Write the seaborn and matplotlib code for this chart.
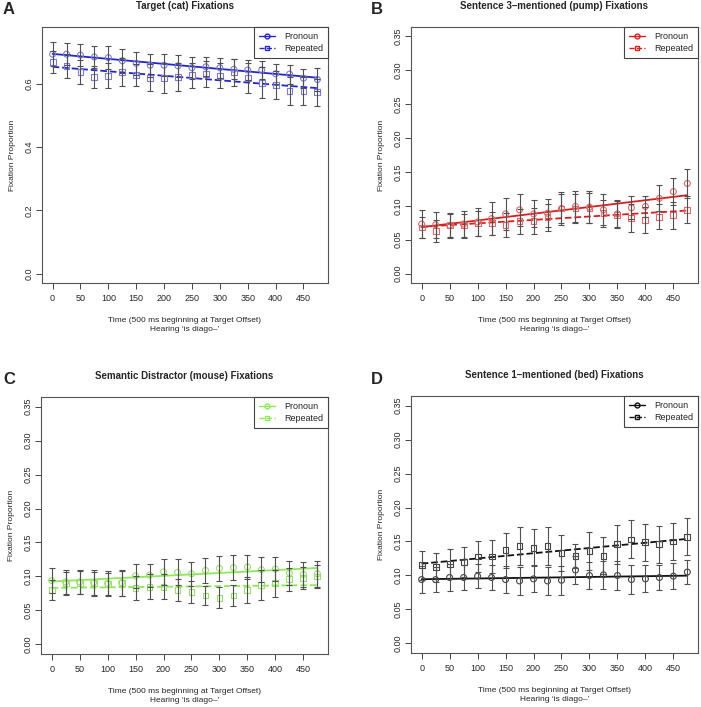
import numpy as np
import pandas as pd
import seaborn as sns
import matplotlib.pyplot as plt
from matplotlib.lines import Line2D

# time bins (ms after target offset)
time_ms = [0, 25, 50, 75, 100, 125, 150, 175, 200, 225,
           250, 275, 300, 325, 350, 375, 400, 425, 450, 475]

# A: target (cat)
a_pron = [0.694, 0.694, 0.691, 0.685, 0.683, 0.673, 0.665, 0.659, 0.659, 0.657,
          0.651, 0.654, 0.651, 0.646, 0.644, 0.644, 0.632, 0.631, 0.618, 0.614]
a_rep = [0.669, 0.657, 0.638, 0.623, 0.626, 0.638, 0.628, 0.620, 0.619, 0.622,
         0.627, 0.631, 0.626, 0.636, 0.618, 0.604, 0.596, 0.578, 0.577, 0.573]
a_pron_err = [0.037, 0.035, 0.034, 0.036, 0.036, 0.037, 0.037, 0.037, 0.035, 0.034,
              0.034, 0.030, 0.032, 0.032, 0.032, 0.030, 0.032, 0.030, 0.030, 0.035]
a_rep_err = [0.035, 0.038, 0.038, 0.035, 0.039, 0.045, 0.036, 0.042, 0.047, 0.043,
             0.040, 0.042, 0.040, 0.042, 0.047, 0.049, 0.045, 0.044, 0.044, 0.044]

# B: sentence 3-mentioned (pump)
b_pron = [0.073, 0.072, 0.071, 0.073, 0.076, 0.081, 0.088, 0.094, 0.088, 0.089,
          0.096, 0.099, 0.098, 0.094, 0.088, 0.097, 0.099, 0.111, 0.121, 0.133]
b_rep = [0.068, 0.063, 0.071, 0.071, 0.074, 0.074, 0.072, 0.077, 0.078, 0.083,
         0.096, 0.096, 0.097, 0.089, 0.087, 0.082, 0.079, 0.084, 0.086, 0.094]
b_pron_err = [0.021, 0.019, 0.019, 0.020, 0.021, 0.024, 0.024, 0.024, 0.020, 0.021,
              0.025, 0.023, 0.024, 0.023, 0.020, 0.017, 0.016, 0.019, 0.020, 0.021]
b_rep_err = [0.016, 0.016, 0.017, 0.017, 0.018, 0.017, 0.018, 0.019, 0.019, 0.020,
             0.021, 0.022, 0.022, 0.020, 0.020, 0.020, 0.019, 0.019, 0.020, 0.020]

# C: semantic distractor (mouse)
c_pron = [0.094, 0.092, 0.092, 0.091, 0.090, 0.091, 0.101, 0.102, 0.107, 0.106,
          0.104, 0.109, 0.112, 0.113, 0.114, 0.110, 0.111, 0.105, 0.103, 0.104]
c_rep = [0.080, 0.090, 0.091, 0.090, 0.089, 0.090, 0.083, 0.085, 0.085, 0.080,
         0.077, 0.072, 0.069, 0.072, 0.080, 0.088, 0.090, 0.096, 0.098, 0.100]
c_pron_err = [0.019, 0.018, 0.018, 0.019, 0.018, 0.019, 0.018, 0.017, 0.019, 0.019,
              0.018, 0.018, 0.018, 0.018, 0.018, 0.018, 0.017, 0.018, 0.018, 0.019]
c_rep_err = [0.015, 0.017, 0.017, 0.017, 0.016, 0.018, 0.018, 0.018, 0.018, 0.016,
             0.016, 0.014, 0.015, 0.016, 0.019, 0.022, 0.020, 0.017, 0.016, 0.017]

# D: sentence 1-mentioned (bed)
d_pron = [0.094, 0.094, 0.097, 0.097, 0.099, 0.097, 0.094, 0.092, 0.095, 0.092,
          0.093, 0.108, 0.100, 0.101, 0.100, 0.094, 0.095, 0.097, 0.099, 0.105]
d_rep = [0.115, 0.112, 0.117, 0.120, 0.128, 0.128, 0.137, 0.144, 0.141, 0.143,
         0.133, 0.129, 0.136, 0.129, 0.146, 0.153, 0.149, 0.146, 0.150, 0.157]
d_pron_err = [0.020, 0.019, 0.020, 0.019, 0.018, 0.019, 0.020, 0.020, 0.020, 0.020,
              0.021, 0.020, 0.020, 0.021, 0.021, 0.021, 0.020, 0.019, 0.019, 0.018]
d_rep_err = [0.021, 0.021, 0.022, 0.022, 0.023, 0.024, 0.026, 0.028, 0.027, 0.028,
             0.026, 0.018, 0.028, 0.027, 0.029, 0.028, 0.027, 0.027, 0.027, 0.027]

conditions = ['Pronoun', 'Repeated']
xlab = 'Time (500 ms beginning at Target Offset)\nHearing \u2018is diago\u2013\u2019'

sns.set_theme(style='white')
plt.rcParams['font.family'] = ['Liberation Sans', 'DejaVu Sans']

W, H = 701, 707
fig = plt.figure(figsize=(W / 100, H / 100), dpi=100)


def add_ax(l, t, r, b):
    return fig.add_axes([l / W, 1 - b / H, (r - l) / W, (b - t) / H])


def panel(ax, pron, rep, pron_err, rep_err, line_col, mark_col, ymax, yticks, fmt, title):
    df = pd.DataFrame({
        'time': time_ms * 2,
        'prop': pron + rep,
        'err': pron_err + rep_err,
        'cond': ['Pronoun'] * len(time_ms) + ['Repeated'] * len(time_ms),
    })
    styles = {'Pronoun': ('-', 'o'), 'Repeated': ('--', 's')}
    for cond in conditions:
        d = df[df['cond'] == cond]
        ls, mk = styles[cond]
        sns.regplot(data=d, x='time', y='prop', scatter=False, ci=None, truncate=True,
                    color=line_col, ax=ax, line_kws=dict(ls=ls, lw=1.3, zorder=2))
        sns.scatterplot(data=d, x='time', y='prop', marker=mk, s=18, facecolor='none',
                        edgecolor=mark_col, linewidth=0.8, ax=ax, legend=False, zorder=3)
        ax.errorbar(d['time'], d['prop'], yerr=d['err'], fmt='none', ecolor='#505050',
                    elinewidth=0.8, capsize=2, capthick=0.8, zorder=4)

    ax.set_xlim(-19, 494)
    ax.set_ylim(-0.04 * ymax, 1.04 * ymax)
    ax.set_xticks([0, 50, 100, 150, 200, 250, 300, 350, 400, 450])
    ax.set_yticks(yticks)
    ax.set_yticklabels([fmt.format(v) for v in yticks], rotation=90, va='center')
    ax.tick_params(axis='both', direction='out', length=4, width=0.7, color='#444444',
                   labelsize=6.5, pad=4, left=True, bottom=True)
    ax.tick_params(axis='y', pad=2)
    for s in ax.spines.values():
        s.set_visible(True)
        s.set_color('#555555')
        s.set_linewidth(0.8)
    ax.set_title(title, fontsize=7, fontweight='bold', pad=13)
    ax.set_xlabel(xlab, fontsize=6, labelpad=10, linespacing=1.45)
    ax.set_ylabel('Fixation Proportion', fontsize=6, labelpad=6)

    handles = [Line2D([], [], color=line_col, ls='-', marker='o', ms=3.5, mfc='none',
                      mec=line_col, lw=1.0),
               Line2D([], [], color=line_col, ls='--', marker='s', ms=3.5, mfc='none',
                      mec=line_col, lw=1.0)]
    leg = ax.legend(handles, conditions, loc='upper right', borderaxespad=0, fontsize=6.5,
                    handlelength=1.8, handletextpad=1.0, borderpad=0.55, labelspacing=0.35,
                    fancybox=False, framealpha=1)
    leg.get_frame().set_edgecolor('#444444')
    leg.get_frame().set_linewidth(0.8)


small = [0.00, 0.05, 0.10, 0.15, 0.20, 0.25, 0.30, 0.35]

ax_a = add_ax(42, 27, 328, 283)
panel(ax_a, a_pron, a_rep, a_pron_err, a_rep_err, '#2626c8', '#7c7ce0', 0.75,
      [0.0, 0.2, 0.4, 0.6], '{:.1f}', 'Target (cat) Fixations')

ax_b = add_ax(411, 27, 698, 283)
panel(ax_b, b_pron, b_rep, b_pron_err, b_rep_err, '#d91e1e', '#e06a6a', 0.35,
      small, '{:.2f}', 'Sentence 3\u2013mentioned (pump) Fixations')

ax_c = add_ax(41, 397, 328, 654)
panel(ax_c, c_pron, c_rep, c_pron_err, c_rep_err, '#8ee85a', '#9ae070', 0.35,
      small, '{:.2f}', 'Semantic Distractor (mouse) Fixations')

ax_d = add_ax(411, 396, 698, 653)
panel(ax_d, d_pron, d_rep, d_pron_err, d_rep_err, '#111111', '#444444', 0.35,
      small, '{:.2f}', 'Sentence 1\u2013mentioned (bed) Fixations')

for letter, px, py in [('A', 3, 10), ('B', 371, 9), ('C', 3, 379), ('D', 371, 380)]:
    fig.text(px / W, 1 - py / H, letter, fontsize=12, fontweight='bold', va='center', ha='left')

fig.savefig('out.png', dpi=100, facecolor='white')
